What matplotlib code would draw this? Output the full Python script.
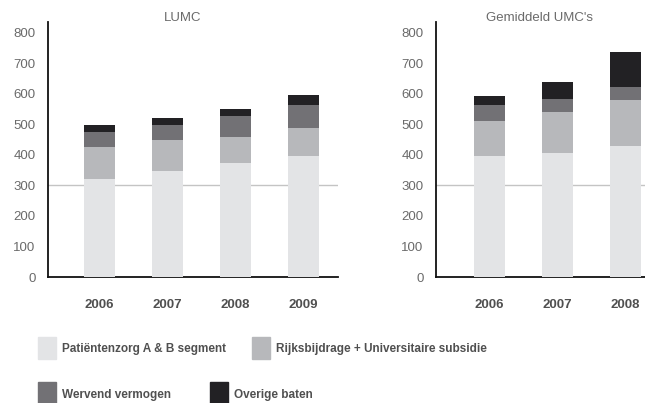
import matplotlib
matplotlib.use("Agg")
import matplotlib.pyplot as plt
from matplotlib.patches import Rectangle

plt.rcParams['font.family'] = ['Liberation Sans', 'DejaVu Sans']

series = ["Patiëntenzorg A & B segment", "Rijksbijdrage + Universitaire subsidie",
          "Wervend vermogen", "Overige baten"]
colors = ["#e3e4e6", "#b7b8bb", "#727175", "#222124"]

lumc_years = ["2006", "2007", "2008", "2009"]
lumc = [
    [322, 349, 375, 398],   # patientenzorg
    [105, 101, 85, 92],     # rijksbijdrage
    [49, 49, 69, 75],       # wervend vermogen
    [23, 23, 23, 33],       # overige baten
]

umc_years = ["2006", "2007", "2008"]
umc = [
    [398, 408, 431],
    [115, 134, 150],
    [52, 43, 43],
    [30, 55, 115],
]

W, H = 645, 403
fig = plt.figure(figsize=(W / 100, H / 100), dpi=100)


def px_axes(x0, x1, y0, y1):
    return fig.add_axes([x0 / W, 1 - y1 / H, (x1 - x0) / W, (y1 - y0) / H])


def draw(ax, years, data, xlim):
    x = range(len(years))
    bottom = [0] * len(years)
    for vals, c in zip(data, colors):
        ax.bar(x, vals, width=0.456, bottom=bottom, color=c, zorder=3)
        bottom = [b + v for b, v in zip(bottom, vals)]
    ax.axhline(300, color="#c4c4c4", lw=1, zorder=1)
    ax.set_xlim(*xlim)
    ax.set_ylim(0, 836)
    ax.set_yticks(range(0, 801, 100))
    ax.set_xticks(list(x))
    ax.set_xticklabels(years, fontweight="bold", color="#505050", fontsize=9.5)
    ax.tick_params(axis="y", length=0, pad=9, labelcolor="#6a6a6a", labelsize=9.5)
    ax.tick_params(axis="x", length=0, pad=16)
    for s in ["top", "right"]:
        ax.spines[s].set_visible(False)
    for s in ["left", "bottom"]:
        ax.spines[s].set_color("#111111")
        ax.spines[s].set_linewidth(1.3)
    ax.set_facecolor("none")


ax1 = px_axes(48, 338, 22, 277)
draw(ax1, lumc_years, lumc, (-0.757, 3.507))
ax2 = px_axes(436, 645, 22, 277)
draw(ax2, umc_years, umc, (-0.787, 2.287))

fig.text(183 / W, 1 - 18 / H, "LUMC", ha="center", va="center", color="#6a6a6a", fontsize=9.5)
fig.text(539 / W, 1 - 18 / H, "Gemiddeld UMC's", ha="center", va="center", color="#6a6a6a", fontsize=9.5)

# legend, placed by hand
leg_pos = [(38, 337, 349), (252, 337, 349), (38, 382, 395), (210, 382, 395)]
for (lx, ly, ty), label, c in zip(leg_pos, series, colors):
    fig.patches.append(Rectangle((lx / W, 1 - (ly + 22) / H), 18 / W, 22 / H,
                                 color=c, transform=fig.transFigure, figure=fig))
    fig.text((lx + 24) / W, 1 - ty / H, label, ha="left", va="center",
             fontweight="bold", color="#505050", fontsize=8.5)

fig.savefig("out.png", dpi=100)
